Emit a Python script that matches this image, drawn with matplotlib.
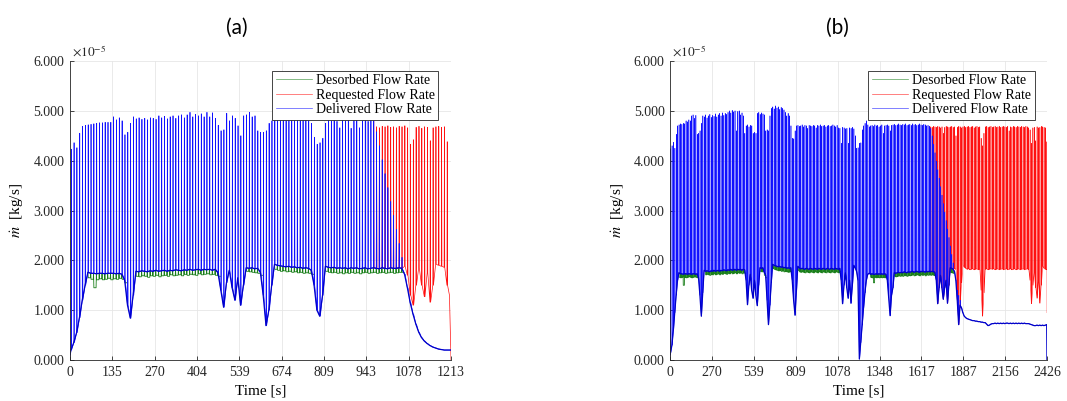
import matplotlib
matplotlib.use("Agg")
import matplotlib.pyplot as plt
import numpy as np
from matplotlib.ticker import FormatStrFormatter

nan = np.nan

# all flow rates in units of 1e-5 kg/s, one value per pressure cycle
PERIOD = 9.0       # s between requested-flow spikes
T0 = 3.0           # time of first spike

# ---------------- panel (a) ----------------
a_req_peak = [
    4.23, 4.36, 4.26, 4.55, 4.69, 4.71, 4.72, 4.73, 4.74, 4.75,
    4.76, 4.76, 4.77, 4.77, 4.77, 4.88, 4.82, 4.86, 4.80, 4.52,
    4.57, 4.75, 4.88, 4.84, 4.86, 4.83, 4.85, 4.82, 4.86, 4.85,
    4.83, 4.90, 4.86, 4.89, 4.84, 4.88, 4.90, 4.85, 4.90, 4.92,
    4.86, 4.92, 4.97, 4.88, 4.93, 4.90, 4.94, 4.88, 4.97, 4.88,
    4.96, 4.85, 4.71, 4.60, 4.62, 4.95, 4.80, 4.90, 4.85, 4.70,
    4.50, 4.90, 4.92, 4.97, 4.88, 4.90, 4.60, 4.57, 4.57, 4.60,
    4.75, 4.80, 4.85, 4.85, 4.82, 4.88, 4.80, 4.86, 4.90, 4.84,
    4.87, 4.82, 4.88, 4.85, 4.80, 4.75, 4.47, 4.33, 4.36, 4.45,
    4.75, 4.82, 4.80, 4.84, 4.79, 4.66, 4.82, 4.80, 4.85, 4.65,
    4.81, 4.83, 4.66, 4.80, 4.84, 4.79, 4.82, 4.80, 4.68, 4.66,
    4.69, 4.68, 4.70, 4.67, 4.68, 4.66, 4.69, 4.68, 4.70, 4.66,
    4.33, 4.42, 4.67, 4.69, 4.65, 4.68, 4.67, 4.40, 4.66, 4.68,
    4.69, 4.67, 4.68, 4.38,
]
a_req_base = [
    0.20, 0.35, 0.55, 0.85, 1.20, 1.50, 1.76, 1.74, 1.74, 1.73,
    1.74, 1.74, 1.73, 1.74, 1.74, 1.74, 1.73, 1.74, 1.72, 1.60,
    1.10, 0.84, 1.30, 1.78, 1.77, 1.79, 1.78, 1.77, 1.79, 1.78,
    1.80, 1.78, 1.79, 1.80, 1.78, 1.80, 1.79, 1.81, 1.80, 1.79,
    1.81, 1.80, 1.82, 1.80, 1.81, 1.82, 1.80, 1.82, 1.81, 1.82,
    1.80, 1.82, 1.75, 1.40, 1.06, 1.55, 1.80, 1.45, 1.20, 1.65,
    1.10, 1.50, 1.85, 1.84, 1.85, 1.83, 1.84, 1.76, 1.30, 0.69,
    1.00, 1.50, 1.92, 1.90, 1.89, 1.88, 1.87, 1.88, 1.86, 1.87,
    1.85, 1.86, 1.84, 1.85, 1.84, 1.80, 1.50, 1.00, 0.88, 1.30,
    1.88, 1.86, 1.85, 1.86, 1.84, 1.85, 1.84, 1.85, 1.83, 1.85,
    1.84, 1.85, 1.83, 1.84, 1.85, 1.83, 1.84, 1.85, 1.84, 1.83,
    1.85, 1.84, 1.83, 1.85, 1.84, 1.84, 1.85, 1.84, 1.88, 1.70,
    1.30, 1.10, 1.50, 1.85, 1.50, 1.27, 1.75, 1.16, 1.50, 1.92,
    1.90, 1.88, 1.86, 1.50,
]
# desorption-limited delivery cap, from cycle index a_cap_from onwards
a_cap_from = 108
a_cap = [
    4.58, 4.30, 4.02, 3.74, 3.46, 3.18, 2.90, 2.62, 2.34, 2.06,
    1.72, 1.45, 1.15, 0.92, 0.72, 0.56, 0.45, 0.38, 0.33, 0.29,
    0.26, 0.24, 0.22, 0.21, 0.20, 0.20,
]
a_des = [
    nan, nan, nan, nan, nan, nan, 1.65, 1.62, 1.45, 1.61,
    1.63, 1.61, 1.62, 1.64, 1.61, 1.63, 1.62, 1.64, 1.62, 1.55,
    nan, nan, nan, 1.68, 1.67, 1.69, 1.68, 1.66, 1.69, 1.68,
    1.70, 1.67, 1.69, 1.70, 1.68, 1.71, 1.69, 1.70, 1.71, 1.69,
    1.72, 1.70, 1.72, 1.71, 1.70, 1.73, 1.71, 1.72, 1.73, 1.71,
    1.72, 1.70, 1.68, nan, nan, nan, nan, nan, nan, nan,
    nan, nan, 1.78, 1.77, 1.76, 1.75, 1.74, 1.70, nan, nan,
    nan, nan, 1.82, 1.80, 1.78, 1.79, 1.77, 1.78, 1.76, 1.77,
    1.75, 1.76, 1.74, 1.75, 1.74, 1.72, nan, nan, nan, nan,
    1.78, 1.76, 1.75, 1.76, 1.74, 1.75, 1.73, 1.75, 1.74, 1.76,
    1.74, 1.75, 1.73, 1.75, 1.76, 1.74, 1.75, 1.76, 1.74, 1.75,
    1.76, 1.74, 1.75, 1.76, 1.74, 1.75, 1.76, 1.76, nan, nan,
    nan, nan, nan, nan, nan, nan, nan, nan, nan, nan,
    nan, nan, nan, nan,
]
a_start_val = 0.10
a_end_t = [1208.0, 1213.0]
a_req_end = [1.30, 0.00]
a_del_end = [0.20, 0.20]
a_xmax = 1213
a_xticks = [0, 135, 270, 404, 539, 674, 809, 943, 1078, 1213]

# ---------------- panel (b) ----------------
b_req_peak = [
    4.24, 4.30, 4.37, 4.25, 4.53, 4.70, 4.72, 4.74, 4.73, 4.75,
    4.74, 4.80, 4.78, 4.82, 4.80, 4.90, 4.92, 4.85, 4.91, 4.53,
    4.55, 4.60, 4.75, 4.90, 4.88, 4.92, 4.86, 4.90, 4.93, 4.87,
    4.91, 4.89, 4.94, 4.88, 4.92, 4.95, 4.90, 4.96, 4.91, 4.95,
    4.93, 4.97, 5.00, 4.96, 5.01, 4.98, 5.00, 4.60, 4.99, 5.00,
    4.92, 4.96, 4.90, 4.55, 4.70, 4.72, 4.68, 4.71, 4.70, 4.55,
    4.57, 4.55, 4.95, 4.97, 4.93, 4.96, 4.94, 4.92, 4.60, 4.62,
    4.60, 4.90, 5.05, 5.08, 5.04, 5.10, 5.06, 5.08, 5.03, 5.07,
    5.05, 5.02, 4.97, 4.90, 4.95, 4.90, 4.70, 4.45, 4.44, 4.60,
    4.70, 4.71, 4.69, 4.70, 4.72, 4.68, 4.71, 4.70, 4.65, 4.71,
    4.70, 4.69, 4.71, 4.70, 4.66, 4.71, 4.70, 4.72, 4.69, 4.70,
    4.71, 4.68, 4.70, 4.71, 4.69, 4.70, 4.72, 4.70, 4.68, 4.71,
    4.66, 4.65, 4.35, 4.67, 4.66, 4.64, 4.65, 4.35, 4.66, 4.65,
    4.67, 4.64, 4.50, 4.25, 4.26, 4.35, 4.36, 4.62, 4.70, 4.75,
    4.80, 4.72, 4.68, 4.70, 4.71, 4.69, 4.72, 4.70, 4.71, 4.68,
    4.70, 4.72, 4.55, 4.70, 4.71, 4.72, 4.70, 4.60, 4.71, 4.72,
    4.73, 4.71, 4.72, 4.74, 4.72, 4.71, 4.73, 4.72, 4.74, 4.71,
    4.72, 4.73, 4.71, 4.74, 4.72, 4.73, 4.71, 4.72, 4.74, 4.72,
    4.71, 4.73, 4.72, 4.70, 4.71, 4.69, 4.68, 4.67, 4.69, 4.68,
    4.67, 4.69, 4.68, 4.66, 4.68, 4.55, 4.67, 4.69, 4.68, 4.67,
    4.68, 4.69, 4.67, 4.68, 4.50, 4.67, 4.69, 4.68, 4.66, 4.68,
    4.69, 4.67, 4.68, 4.69, 4.67, 4.68, 4.69, 4.66, 4.68, 4.69,
    4.67, 4.68, 4.45, 4.30, 4.55, 4.68, 4.69, 4.67, 4.68, 4.69,
    4.67, 4.68, 4.69, 4.67, 4.68, 4.69, 4.67, 4.68, 4.69, 4.68,
    4.67, 4.69, 4.60, 4.68, 4.67, 4.69, 4.68, 4.67, 4.69, 4.68,
    4.67, 4.69, 4.68, 4.67, 4.69, 4.68, 4.66, 4.62, 4.35, 4.66,
    4.67, 4.40, 4.68, 4.66, 4.67, 4.69, 4.68, 4.67, 4.66, 4.38,
]
b_req_base = [
    0.15, 0.30, 0.60, 0.95, 1.30, 1.60, 1.75, 1.73, 1.73, 1.72,
    1.73, 1.73, 1.72, 1.73, 1.73, 1.72, 1.73, 1.73, 1.72, 1.73,
    1.65, 1.30, 0.88, 1.35, 1.80, 1.78, 1.79, 1.78, 1.77, 1.79,
    1.78, 1.80, 1.78, 1.79, 1.80, 1.78, 1.80, 1.79, 1.81, 1.80,
    1.79, 1.81, 1.80, 1.82, 1.80, 1.81, 1.82, 1.80, 1.82, 1.81,
    1.82, 1.80, 1.82, 1.81, 1.60, 1.11, 1.50, 1.72, 1.40, 1.24,
    1.60, 1.30, 1.09, 1.50, 1.85, 1.84, 1.85, 1.76, 1.70, 1.20,
    0.71, 1.10, 1.55, 1.92, 1.90, 1.89, 1.88, 1.87, 1.88, 1.86,
    1.87, 1.85, 1.86, 1.84, 1.85, 1.84, 1.85, 1.60, 1.20, 0.90,
    1.40, 1.88, 1.85, 1.83, 1.84, 1.83, 1.82, 1.84, 1.83, 1.82,
    1.84, 1.83, 1.82, 1.84, 1.83, 1.82, 1.84, 1.83, 1.82, 1.84,
    1.83, 1.82, 1.84, 1.83, 1.82, 1.84, 1.83, 1.82, 1.84, 1.83,
    1.82, 1.84, 1.60, 1.13, 1.50, 1.75, 1.45, 1.24, 1.60, 1.14,
    1.50, 1.90, 1.85, 1.78, 1.60, 0.02, 0.35, 0.70, 1.05, 1.35,
    1.60, 1.72, 1.74, 1.72, 1.73, 1.72, 1.72, 1.73, 1.72, 1.73,
    1.72, 1.73, 1.72, 1.73, 1.72, 1.60, 1.25, 0.89, 1.30, 1.45,
    1.75, 1.74, 1.75, 1.76, 1.75, 1.76, 1.75, 1.77, 1.76, 1.75,
    1.77, 1.76, 1.77, 1.78, 1.76, 1.77, 1.78, 1.77, 1.76, 1.78,
    1.77, 1.78, 1.76, 1.78, 1.77, 1.78, 1.77, 1.78, 1.77, 1.76,
    1.60, 1.13, 1.45, 1.70, 1.45, 1.22, 1.45, 1.60, 1.14, 1.50,
    1.85, 1.84, 1.82, 1.83, 1.82, 1.20, 0.71, 1.10, 1.55, 1.90,
    1.86, 1.84, 1.82, 1.83, 1.81, 1.82, 1.83, 1.81, 1.82, 1.83,
    1.81, 1.82, 1.40, 0.88, 1.35, 1.82, 1.83, 1.81, 1.82, 1.83,
    1.82, 1.83, 1.81, 1.82, 1.83, 1.81, 1.82, 1.83, 1.81, 1.82,
    1.83, 1.81, 1.82, 1.83, 1.81, 1.82, 1.83, 1.81, 1.82, 1.83,
    1.81, 1.82, 1.83, 1.81, 1.82, 1.83, 1.81, 1.60, 1.13, 1.50,
    1.75, 1.45, 1.24, 1.60, 1.14, 1.50, 1.88, 1.84, 1.82, 1.81,
]
b_cap_from = 186
b_cap = [
    4.65, 4.50, 4.33, 4.16, 3.99, 3.82, 3.65, 3.48, 3.31, 3.14,
    2.97, 2.80, 2.63, 2.46, 2.29, 2.12, 1.95, 1.78, 1.60, 1.40,
    1.30, 1.20, 1.05, 0.95, 0.88, 0.85, 0.83, 0.82, 0.81, 0.80,
    0.79, 0.79, 0.78, 0.78, 0.77, 0.77, 0.76, 0.76, 0.75, 0.75,
    0.72, 0.69, 0.70, 0.72, 0.73, 0.73, 0.74, 0.73, 0.74, 0.73,
    0.74, 0.73, 0.74, 0.73, 0.74, 0.74, 0.73, 0.74, 0.73, 0.74,
    0.73, 0.74, 0.73, 0.74, 0.73, 0.74, 0.73, 0.74, 0.73, 0.73,
    0.73, 0.72, 0.71, 0.70, 0.69, 0.69, 0.70, 0.69, 0.70, 0.69,
    0.70, 0.69, 0.70, 0.71,
]
# desorbed flow; nan where it is hidden under the delivered curve
b_des = [
    nan, nan, nan, nan, nan, nan, 1.66, 1.65, 1.66, 1.50,
    1.66, 1.65, 1.66, 1.67, 1.66, 1.65, 1.66, 1.67, 1.66, 1.65,
    nan, nan, nan, nan, nan, 1.71, 1.72, 1.71, 1.70, 1.72,
    1.71, 1.73, 1.71, 1.72, 1.73, 1.71, 1.73, 1.72, 1.74, 1.73,
    1.72, 1.74, 1.73, 1.75, 1.73, 1.74, 1.75, 1.73, 1.75, 1.74,
    1.75, 1.73, 1.75, 1.74, nan, nan, nan, nan, nan, nan,
    nan, nan, nan, nan, 1.78, 1.77, 1.78, 1.70, 1.65, nan,
    nan, nan, nan, 1.84, 1.82, 1.81, 1.80, 1.79, 1.80, 1.78,
    1.79, 1.77, 1.78, 1.77, 1.76, 1.77, 1.77, nan, nan, nan,
    nan, 1.80, 1.77, 1.76, 1.77, 1.76, 1.75, 1.77, 1.76, 1.75,
    1.77, 1.76, 1.75, 1.77, 1.76, 1.75, 1.77, 1.76, 1.75, 1.77,
    1.76, 1.75, 1.77, 1.76, 1.75, 1.77, 1.76, 1.75, 1.77, 1.76,
    1.75, 1.77, nan, nan, nan, nan, nan, nan, nan, nan,
    nan, nan, nan, nan, nan, nan, nan, nan, nan, nan,
    nan, nan, nan, 1.66, 1.65, 1.55, 1.66, 1.65, 1.66, 1.65,
    1.66, 1.65, 1.66, 1.65, 1.66, nan, nan, nan, nan, nan,
    1.68, 1.67, 1.68, 1.69, 1.68, 1.69, 1.68, 1.70, 1.69, 1.68,
    1.70, 1.69, 1.70, 1.71, 1.69, 1.70, 1.71, 1.70, 1.69, 1.71,
    1.70, 1.71, 1.69, 1.71, 1.70, 1.71, 1.70, 1.71, 1.70, 1.69,
    nan, nan, nan, nan, nan, nan, nan, nan, nan, nan,
    1.76, 1.75, 1.74,
] + [nan] * 67
b_start_val = 0.10
b_end_t = [2426.0]
b_req_end = [0.95]
b_del_end = [0.00]
b_xmax = 2426
b_xticks = [0, 270, 539, 809, 1078, 1348, 1617, 1887, 2156, 2426]

C_DES = "#1a7f1a"
C_REQ = "#ff1010"
C_DEL = "#1010ff"

plt.rcParams["font.family"] = ["Liberation Serif", "DejaVu Serif"]
plt.rcParams["mathtext.fontset"] = "stix"


def spikes(t, base, peak):
    # each cycle: baseline -> spike -> baseline
    x = np.column_stack([t, t + 1.0, t + 2.0]).ravel()
    y = np.column_stack([base, peak, base]).ravel()
    return x, y


def teeth(t, base, des):
    tick = np.where(np.isnan(des), nan, base)
    x = np.column_stack([t, t + 1.0, t + PERIOD - 1.0]).ravel()
    y = np.column_stack([tick, des, des]).ravel()
    return x, y


def draw_panel(ax, req_peak, req_base, cap_from, cap, des, start_val,
               end_t, req_end, del_end, xmax, xticks, lw):
    req_peak = np.asarray(req_peak)
    req_base = np.asarray(req_base)
    n = len(req_peak)
    t = T0 + PERIOD * np.arange(n)
    cap_full = np.full(n, np.inf)
    cap_full[cap_from:cap_from + len(cap)] = cap
    del_peak = np.minimum(req_peak, cap_full)
    del_base = np.minimum(req_base, cap_full)

    xd, yd = spikes(t, del_base, del_peak)
    xg, yg = teeth(t, del_base, np.asarray(des))
    # requested only differs from delivered once the cap applies
    k = cap_from - 1
    xr, yr = spikes(t[k:], req_base[k:], req_peak[k:])

    ax.plot(xg, yg, color=C_DES, lw=0.6)
    ax.plot(np.r_[xr, end_t], np.r_[yr, req_end], color=C_REQ, lw=lw)
    ax.plot(np.r_[0.0, xd, end_t], np.r_[start_val, yd, del_end],
            color=C_DEL, lw=lw)
    # baselines drawn a touch heavier, as in the original
    ax.plot(np.r_[0.0, t, end_t], np.r_[start_val, del_base, del_end],
            color="#0000c8", lw=0.9)

    # legend proxies
    for c, lab in ((C_DES, "Desorbed Flow Rate"), (C_REQ, "Requested Flow Rate"),
                   (C_DEL, "Delivered Flow Rate")):
        ax.plot([], [], color=c, lw=0.5, alpha=0.75, label=lab)

    ax.set_xlim(0, xmax)
    ax.set_ylim(0, 6)
    ax.set_xticks(xticks)
    ax.set_yticks(range(7))
    ax.yaxis.set_major_formatter(FormatStrFormatter("%.3f"))
    ax.tick_params(direction="in", length=3, width=0.6, labelsize=10,
                   colors="#262626", pad=4)
    ax.grid(True, color="#e6e6e6", lw=0.6)
    ax.set_axisbelow(True)
    for s in ("top", "right"):
        ax.spines[s].set_visible(False)
    for s in ("left", "bottom"):
        ax.spines[s].set_color("#262626")
        ax.spines[s].set_linewidth(0.6)
    ax.set_xlabel("Time [s]", fontsize=11, labelpad=4)
    ax.set_ylabel(r"$\dot{m}$  [kg/s]", fontsize=11, labelpad=5)
    ax.text(0.005, 1.005, r"$\times10^{-5}$", transform=ax.transAxes,
            ha="left", va="bottom", fontsize=9.5, color="#262626")
    leg = ax.legend(loc="upper right", bbox_to_anchor=(0.967, 0.967),
                    borderaxespad=0, fontsize=10, fancybox=False,
                    framealpha=1, edgecolor="#262626", handlelength=2.6,
                    labelspacing=0.1, borderpad=0.25, handletextpad=0.3)
    leg.get_frame().set_linewidth(0.6)


fig = plt.figure(figsize=(10.67, 4.01), dpi=100)
ax_a = fig.add_axes([0.0656, 0.1022, 0.3571, 0.7457])
ax_b = fig.add_axes([0.6280, 0.1022, 0.3533, 0.7457])

draw_panel(ax_a, a_req_peak, a_req_base, a_cap_from, a_cap, a_des, a_start_val,
           a_end_t, a_req_end, a_del_end, a_xmax, a_xticks, 0.5)
draw_panel(ax_b, b_req_peak, b_req_base, b_cap_from, b_cap, b_des, b_start_val,
           b_end_t, b_req_end, b_del_end, b_xmax, b_xticks, 0.4)

fig.text(237 / 1067, 1 - 28 / 401, "(a)", ha="center", va="center",
         fontsize=15, family=["Lato", "DejaVu Sans"])
fig.text(837 / 1067, 1 - 28 / 401, "(b)", ha="center", va="center",
         fontsize=15, family=["Lato", "DejaVu Sans"])

fig.savefig("out.png", dpi=100)
